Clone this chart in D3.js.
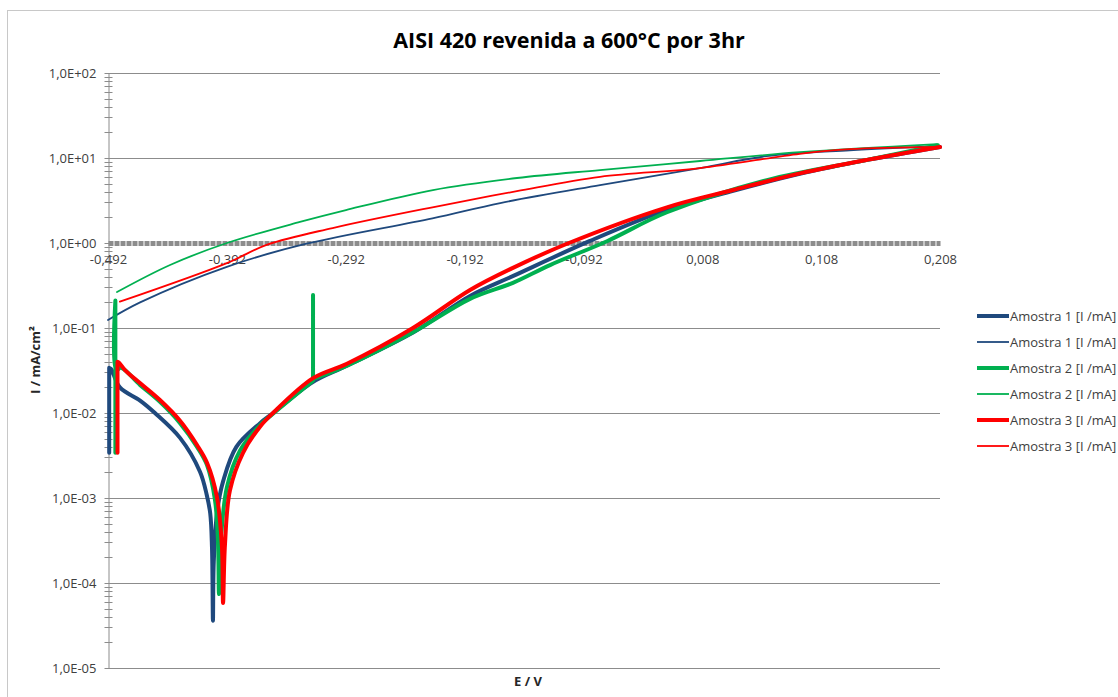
<!DOCTYPE html>
<html>
<head>
<meta charset="utf-8">
<script src="https://cdn.jsdelivr.net/npm/d3@7"></script>
<style>
  html, body { margin: 0; padding: 0; background: #fff; }
  svg { display: block; }
  text { font-family: 'Open Sans', 'Liberation Sans', sans-serif; }
</style>
</head>
<body>
<svg id="chart" width="1118" height="697"></svg>
<script>
// tick labels
const X_TICKS = [-0.492, -0.392, -0.292, -0.192, -0.092, 0.008, 0.108, 0.208];
const Y_TICKS = [1e-5, 1e-4, 1e-3, 1e-2, 1e-1, 1e0, 1e1, 1e2];

// Amostra 1 (thick, forward scan)
const A1_E = [-0.491, -0.491, -0.491, -0.4895, -0.482, -0.465, -0.4525, -0.4314, -0.4146, -0.409, -0.406, -0.4045, -0.4037, -0.403, -0.400, -0.395, -0.384, -0.364, -0.353, -0.320, -0.291, -0.235, -0.187, -0.151, -0.087, -0.022, 0.034, 0.090, 0.147, 0.208];
const A1_I = [0.0034, 0.034, 0.034, 0.033, 0.020, 0.014, 0.010, 0.0051, 0.00204, 0.0011, 0.00066, 0.00026, 0.000036, 0.00018, 0.00072, 0.0016, 0.0040, 0.0076, 0.010, 0.023, 0.036, 0.089, 0.24, 0.41, 1.05, 2.45, 4.1, 6.5, 9.5, 13.5];
// Amostra 1 (thin, reverse scan)
const A1R_E = [-0.492, -0.465, -0.392, -0.325, -0.219, -0.162, -0.078, 0.006, 0.062, 0.132, 0.208];
const A1R_I = [0.124, 0.20, 0.525, 0.98, 1.95, 2.95, 4.8, 7.6, 10.5, 12.3, 13.8];

// Amostra 2
const A2_E = [-0.4858, -0.4858, -0.4858, -0.4850, -0.4811, -0.4651, -0.4483, -0.4314, -0.4171, -0.4087, -0.402, -0.3995, -0.3986, -0.3970, -0.3919, -0.381, -0.3641, -0.3532, -0.3195, -0.3195, -0.3195, -0.3195, -0.3195, -0.3195, -0.291, -0.2354, -0.1874, -0.1513, -0.1201, -0.0722, -0.0217, 0.0624, 0.1465, 0.2063];
const A2_I = [0.0034, 0.21, 0.21, 0.032, 0.034, 0.0214, 0.0135, 0.0076, 0.0040, 0.00245, 0.00095, 0.00032, 0.000074, 0.00032, 0.00135, 0.0036, 0.0072, 0.0098, 0.024, 0.024, 0.245, 0.245, 0.025, 0.025, 0.036, 0.089, 0.22, 0.34, 0.55, 1.05, 2.3, 5.5, 9.5, 14.1];
const A2R_E = [-0.4844, -0.4398, -0.3919, -0.3305, -0.2918, -0.2186, -0.1479, -0.0781, 0.0061, 0.0902, 0.2055];
const A2R_I = [0.265, 0.551, 1.0, 1.77, 2.44, 4.2, 5.82, 7.22, 9.22, 11.7, 14.6];

// Amostra 3
const A3_E = [-0.4840, -0.4840, -0.4840, -0.4827, -0.4777, -0.4651, -0.4483, -0.4314, -0.4171, -0.4087, -0.4003, -0.3961, -0.3952, -0.3936, -0.3894, -0.3784, -0.3641, -0.3532, -0.3195, -0.291, -0.2354, -0.1874, -0.1513, -0.1058, -0.0217, 0.0338, 0.0902, 0.1465, 0.208];
const A3_I = [0.0034, 0.040, 0.040, 0.039, 0.032, 0.0225, 0.0142, 0.0081, 0.0042, 0.0026, 0.00102, 0.00026, 0.000058, 0.00028, 0.00123, 0.0034, 0.0069, 0.010, 0.0257, 0.038, 0.10, 0.28, 0.51, 0.98, 2.63, 4.2, 6.6, 9.5, 13.5];
const A3R_E = [-0.482, -0.392, -0.358, -0.303, -0.219, -0.148, -0.078, 0.006, 0.090, 0.132, 0.208];
const A3R_I = [0.204, 0.58, 0.955, 1.5, 2.63, 4.07, 6.0, 7.6, 11.2, 12.7, 13.5];

const SERIES = [
  { name: 'Amostra 1 [I /mA]', color: '#1f497d', width: 4, e: A1_E, i: A1_I },
  { name: 'Amostra 1 [I /mA]', color: '#1f497d', width: 1.8, e: A1R_E, i: A1R_I },
  { name: 'Amostra 2 [I /mA]', color: '#00b050', width: 4, e: A2_E, i: A2_I },
  { name: 'Amostra 2 [I /mA]', color: '#00b050', width: 1.8, e: A2R_E, i: A2R_I },
  { name: 'Amostra 3 [I /mA]', color: '#ff0000', width: 4, e: A3_E, i: A3_I },
  { name: 'Amostra 3 [I /mA]', color: '#ff0000', width: 1.8, e: A3R_E, i: A3R_I },
];

const SVG = d3.select('#chart');

const LEFT = 108;
const RIGHT = 940;
const TOP = 73;
const BOTTOM = 668;

const X = d3.scaleLinear().domain([-0.492, 0.208]).range([LEFT, RIGHT]);
const Y = d3.scaleLog().domain([1e-5, 1e2]).range([BOTTOM, TOP]);

const fmtX = (v) => d3.format('.3f')(v).replace('.', ',').replace('−', '-');
const fmtY = (v) => {
  const e = Math.round(Math.log10(v));
  return '1,0E' + (e < 0 ? '-' : '+') + String(Math.abs(e)).padStart(2, '0');
};

// chart frame
SVG.append('rect')
  .attr('x', 7.5)
  .attr('y', 10.5)
  .attr('width', 1200)
  .attr('height', 800)
  .style('fill', 'none')
  .style('stroke', '#c8c8c8')
  .style('stroke-width', 1);

// title
SVG.append('text')
  .attr('x', 569)
  .attr('y', 48)
  .style('text-anchor', 'middle')
  .style('font-size', '21.5px')
  .style('font-weight', '700')
  .style('fill', '#000')
  .text('AISI 420 revenida a 600°C por 3hr');

// horizontal gridlines
SVG.append('g')
  .attr('id', 'grid')
  .selectAll('line')
  .data(Y_TICKS.filter((d) => d !== 1))
  .join('line')
  .attr('x1', LEFT)
  .attr('x2', RIGHT)
  .attr('y1', (d) => Math.round(Y(d)) + 0.5)
  .attr('y2', (d) => Math.round(Y(d)) + 0.5)
  .style('stroke', '#8c8c8c')
  .style('stroke-width', 1);

// y axis (log, with minor ticks)
const minor = [];
for (let k = -5; k < 2; k++) {
  for (let m = 2; m <= 9; m++) minor.push(m * Math.pow(10, k));
}
const Y_AXIS = d3.axisLeft(Y).tickValues(Y_TICKS).tickFormat(fmtY).tickSize(0).tickPadding(12);
const Y_AXIS_GROUP = SVG.append('g')
  .attr('id', 'yAxis')
  .attr('transform', `translate(${LEFT + 0.5},0)`);
Y_AXIS(Y_AXIS_GROUP);
Y_AXIS_GROUP.select('.domain').style('stroke', '#8c8c8c');
Y_AXIS_GROUP.selectAll('text')
  .style('font-size', '13px')
  .style('fill', '#404040')
  .style('font-family', "'Open Sans', sans-serif");
Y_AXIS_GROUP.selectAll('line.minor')
  .data(minor.concat(Y_TICKS))
  .join('line')
  .attr('class', 'minor')
  .attr('x1', -4)
  .attr('x2', 4)
  .attr('y1', (d) => Math.round(Y(d)) + 0.5)
  .attr('y2', (d) => Math.round(Y(d)) + 0.5)
  .style('stroke', '#8c8c8c');

// x axis crossing at I = 1
const X_AXIS = d3.axisBottom(X).tickValues(X_TICKS).tickFormat(fmtX).tickSize(0).tickPadding(12);
const X_AXIS_GROUP = SVG.append('g')
  .attr('id', 'xAxis')
  .attr('transform', `translate(0,${Y(1)})`);
X_AXIS(X_AXIS_GROUP);
X_AXIS_GROUP.select('.domain')
  .style('stroke', '#8c8c8c')
  .style('stroke-width', 5)
  .style('stroke-dasharray', '5,1');
X_AXIS_GROUP.selectAll('text')
  .style('font-size', '13px')
  .style('fill', '#404040')
  .style('font-family', "'Open Sans', sans-serif");

// axis titles
SVG.append('text')
  .attr('transform', `translate(40,360) rotate(-90)`)
  .style('text-anchor', 'middle')
  .style('font-size', '13px')
  .style('font-weight', '700')
  .style('fill', '#262626')
  .text('I / mA/cm²');

SVG.append('text')
  .attr('x', 528)
  .attr('y', 686)
  .style('text-anchor', 'middle')
  .style('font-size', '13px')
  .style('font-weight', '700')
  .style('fill', '#262626')
  .text('E / V');

// curves (repeated points keep the spikes straight)
const LINE = d3
  .line()
  .x((d) => X(d[0]))
  .y((d) => Y(d[1]))
  .curve(d3.curveCatmullRom.alpha(0.5));

SVG.append('g')
  .attr('id', 'curves')
  .selectAll('path')
  .data(SERIES)
  .join('path')
  .attr('d', (s) => LINE(s.e.map((e, k) => [e, s.i[k]])))
  .style('fill', 'none')
  .style('stroke', (s) => s.color)
  .style('stroke-width', (s) => s.width)
  .style('stroke-linejoin', 'round')
  .style('stroke-linecap', 'round');

// legend
const LEGEND = SVG.append('g')
  .attr('id', 'legend')
  .selectAll('g')
  .data(SERIES)
  .join('g')
  .attr('transform', (d, k) => `translate(977,${316 + k * 26})`);

LEGEND.append('line')
  .attr('x1', 0)
  .attr('x2', 32)
  .style('stroke', (s) => s.color)
  .style('stroke-width', (s) => s.width);

LEGEND.append('text')
  .attr('x', 33)
  .attr('y', 4.5)
  .style('font-size', '13px')
  .style('fill', '#404040')
  .text((s) => s.name);
</script>
</body>
</html>
